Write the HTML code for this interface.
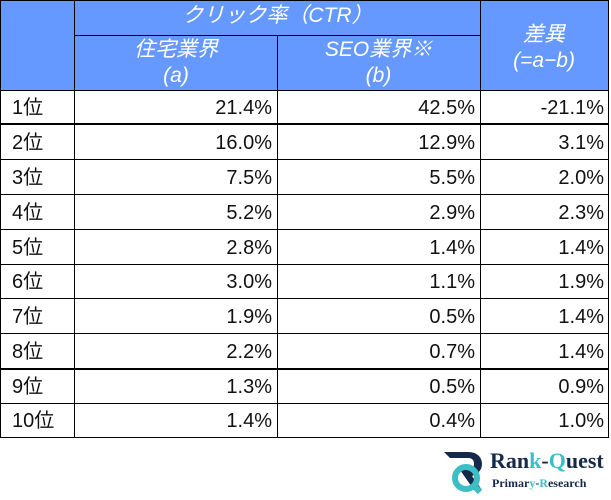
<!DOCTYPE html>
<html><head><meta charset="utf-8"><style>
body{margin:0;width:611px;height:500px;background:#fff;font-family:"Liberation Sans","Noto Sans CJK JP",sans-serif;position:relative;overflow:hidden}
.hd{position:absolute;left:0;top:0;width:608px;height:90px;background:#6699ff}
.l{position:absolute;background:#000}
.t{position:absolute;font-size:20px;color:#111;line-height:20px}
.h{position:absolute;color:#fff;font-style:italic;font-size:21px;text-align:center;line-height:26px}
</style></head><body>
<div class="hd"></div>
<div class="h" style="left:75px;width:405px;top:3px">クリック率（CTR）</div>
<div class="h" style="left:75px;width:202px;top:37px">住宅業界<br>(a)</div>
<div class="h" style="left:277px;width:203px;top:37px">SEO業界※<br>(b)</div>
<div class="h" style="left:480px;width:128px;top:22px">差異<br>(=a−b)</div>
<div class="l" style="left:0;top:0;width:609px;height:1px"></div>
<div class="l" style="left:75px;top:35px;width:405px;height:1px"></div>
<div class="l" style="left:0;top:90px;width:609px;height:1px"></div>
<div class="l" style="left:0;top:123px;width:609px;height:2px"></div>
<div class="l" style="left:0;top:368px;width:609px;height:2px"></div>
<div class="l" style="left:0;top:437px;width:609px;height:1px"></div>
<div class="l" style="left:0;top:0;width:1px;height:438px"></div>
<div class="l" style="left:74px;top:0;width:1px;height:438px"></div>
<div class="l" style="left:277px;top:36px;width:1px;height:402px"></div>
<div class="l" style="left:480px;top:0;width:1px;height:438px"></div>
<div class="l" style="left:608px;top:0;width:1px;height:438px"></div>
<div id="rows"></div>
<script>
var d=[["1位","21.4%","42.5%","-21.1%"],["2位","16.0%","12.9%","3.1%"],["3位","7.5%","5.5%","2.0%"],["4位","5.2%","2.9%","2.3%"],["5位","2.8%","1.4%","1.4%"],["6位","3.0%","1.1%","1.9%"],["7位","1.9%","0.5%","1.4%"],["8位","2.2%","0.7%","1.4%"],["9位","1.3%","0.5%","0.9%"],["10位","1.4%","0.4%","1.0%"]];
var h="",y0=[90,124,159,194,229,264,298,333,369,403,437];
for(var i=0;i<10;i++){var y=y0[i+1];
h+='<div class="l" style="left:0;top:'+y+'px;width:609px;height:1px"></div>';
var c=(y0[i]+y0[i+1])/2-9;
h+='<div class="t" style="left:12px;top:'+c+'px">'+d[i][0]+'</div>';
h+='<div class="t" style="left:75px;width:197px;text-align:right;top:'+c+'px">'+d[i][1]+'</div>';
h+='<div class="t" style="left:277px;width:198px;text-align:right;top:'+c+'px">'+d[i][2]+'</div>';
h+='<div class="t" style="left:480px;width:124px;text-align:right;top:'+c+'px">'+d[i][3]+'</div>';}
document.getElementById("rows").innerHTML=h;
</script>
<svg style="position:absolute;left:440px;top:448px" width="50" height="48"><path d="M4 4h24c10 0 14 6 14 12s-4 10-10 12l10 14h-8L20 22h8c4 0 6-2 6-6s-2-6-6-6H10z" fill="#152a4a"/><circle cx="26" cy="30" r="11" fill="none" stroke="#3cbec4" stroke-width="6"/><path d="M32 36l8 8" stroke="#3cbec4" stroke-width="6"/></svg>
<div style="position:absolute;left:490px;top:448px;font-family:'Liberation Serif',serif;font-weight:bold;font-size:22px;color:#152a4a">Ran<span style="color:#3cbec4">k</span>-<span style="color:#3cbec4">Q</span>uest</div>
<div style="position:absolute;left:492px;top:476px;font-family:'Liberation Serif',serif;font-weight:bold;font-size:12px;color:#152a4a">Primar<span style="color:#3cbec4">y</span>-<span style="color:#3cbec4">R</span>esearch</div>
</body></html>
